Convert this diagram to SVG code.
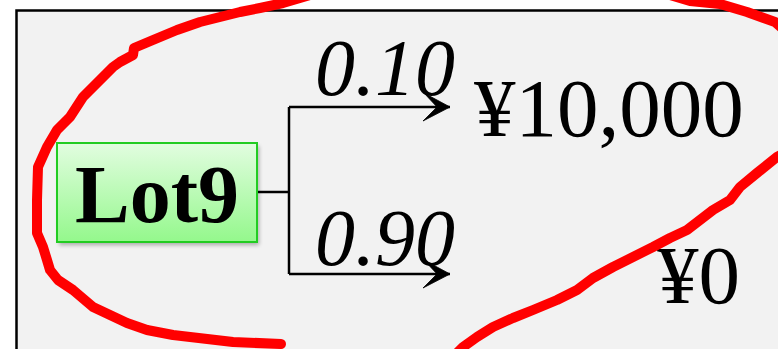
<svg xmlns="http://www.w3.org/2000/svg" width="778" height="349" viewBox="0 0 778 349">
<defs>
<linearGradient id="g" x1="0" y1="0" x2="0" y2="1">
<stop offset="0" stop-color="#e2fde0"/>
<stop offset="1" stop-color="#94f88c"/>
</linearGradient>
<filter id="sh" x="-10%" y="-10%" width="130%" height="140%">
<feGaussianBlur stdDeviation="2"/>
</filter>
<marker id="arr" markerUnits="userSpaceOnUse" markerWidth="32" markerHeight="30" refX="29" refY="14" orient="auto">
<path d="M29,14 L3,0 L16,14 L2,28 Z" fill="#000" stroke="#000" stroke-width="0.8" stroke-linejoin="round"/>
</marker>
</defs>
<style>
.ser{font-family:"Liberation Serif","Times New Roman",serif;fill:#000}
.prob{font-size:80px;font-style:italic}
.val{font-size:83px}
.ln{fill:none;stroke:#000;stroke-width:2.5}
</style>
<rect x="0" y="0" width="778" height="349" fill="#fff"/>
<rect id="frame" x="16.5" y="10.5" width="800" height="400" fill="#f2f2f2" stroke="#000" stroke-width="2.5"/>
<g id="connectors">
<path class="ln" d="M257,192 H289"/>
<path class="ln" d="M289,107 V274"/>
<path class="ln" d="M289,107 H450" marker-end="url(#arr)"/>
<path class="ln" d="M289,274 H450" marker-end="url(#arr)"/>
</g>
<g id="lot9">
<rect x="59" y="146" width="200" height="99" fill="#000" opacity="0.3" filter="url(#sh)"/>
<rect x="57" y="143" width="200" height="99" fill="url(#g)" stroke="#22cc22" stroke-width="2"/>
<text class="ser" x="157" y="222" text-anchor="middle" font-size="82" font-weight="bold">Lot9</text>
</g>
<g id="p1"><text class="ser prob" x="315" y="95">0.10</text></g>
<g id="p2"><text class="ser prob" x="315" y="265">0.90</text></g>
<g id="v1"><text class="ser val" x="474" y="136">¥10,000</text></g>
<g id="v2"><text class="ser val" x="657" y="303">¥0</text></g>
<path id="loop" fill="none" stroke="#ff0000" stroke-width="10" stroke-linejoin="round" stroke-linecap="round" d="M281,344 L233,342 L173,335 L147,330 L127,323 L110,315 L93,307 L73,290 L58,280 L50,270 L47,260 L43,247 L37,233 L37,200 L38,167 L47,147 L57,130 L70,117 L83,97 L100,80 L113,67 L120,62 L133,55 L134,48 L153,40 L177,30 L200,22 L220,17 L240,12 L260,8 L283,3 L310,-5 M670,-5 L690,1 L720,4 L747,12 L775,22 L790,35 M790,150 L777,157 L757,173 L740,187 L730,200 L713,210 L700,220 L687,230 L670,238 L653,247 L633,257 L613,267 L593,278 L577,290 L557,300 L533,310 L513,318 L493,327 L477,337 L463,347 L455,355"/>
</svg>
